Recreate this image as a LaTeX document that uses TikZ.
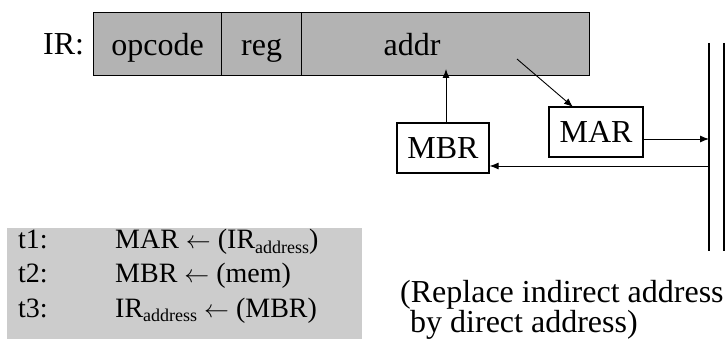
\documentclass[tikz,border=0pt]{standalone}
\usepackage{fontspec}
\setmainfont{Liberation Serif}
\usetikzlibrary{arrows.meta}
\definecolor{irgray}{HTML}{B3B3B3}
\definecolor{tgray}{HTML}{CCCCCC}
\newcommand{\larr}{\ensuremath{\leftarrow}}
\newcommand{\addrsub}{\raisebox{-5pt}{\fontsize{18}{18}\selectfont address}}
\begin{document}
\begin{tikzpicture}[x=1pt,y=-1pt,
  every node/.style={font=\fontsize{32}{32}\selectfont},
  field/.style={draw, line width=1.2pt, fill=irgray, minimum height=63pt,
    inner sep=0pt, text height=22pt, text depth=0pt, anchor=north west},
  regbox/.style={draw, line width=1.2pt, fill=white, inner sep=0pt,
    minimum height=50pt, text height=22pt, text depth=0pt},
  txt/.style={anchor=base west, inner sep=0pt},
  optxt/.style={anchor=base west, inner sep=0pt, font=\fontsize{28}{28}\selectfont},
  arr/.style={-{Latex[length=9pt,width=7pt]}, line width=0.9pt},
  busline/.style={line width=1.2pt}
]
\useasboundingbox (0,0) rectangle (726,339);

% instruction register and its fields
\node[txt] (irlabel) at (43,55) {IR:};
\node[field, minimum width=128pt] (opcode) at (93,12) {opcode};
\node[field, minimum width=80pt] (reg) at (221,12) {reg};
\node[field, minimum width=288pt] (addr) at (301,12)
  {\makebox[288pt][l]{\hspace{82pt}addr}};

% address and buffer registers
\node[regbox, minimum width=94pt] (mar) at (596,132) {MAR};
\node[regbox, minimum width=92pt] (mbr) at (443,148) {MBR};

% system bus
\coordinate (bus1top) at (709,43);
\coordinate (bus1bot) at (709,251);
\coordinate (bus2top) at (724,43);
\coordinate (bus2bot) at (724,251);
\draw[busline] (bus1top) -- (bus1bot);
\draw[busline] (bus2top) -- (bus2bot);

% data paths
\coordinate (addrIn) at (446,69);
\coordinate (addrOut) at (517,59);
\coordinate (marIn) at (573,107);
\coordinate (busIn) at (709,139);
\coordinate (busOut) at (709,166);
\draw[arr] (mbr.north -| addrIn) -- (addrIn);
\draw[arr] (addrOut) -- (marIn);
\draw[arr] (mar.east |- busIn) -- (busIn);
\draw[arr] (busOut) -- (mbr.east |- busOut);

% micro-operations
\node[fill=tgray, inner sep=0pt, minimum width=355pt, minimum height=111pt,
  anchor=north west] (ops) at (7,228) {};
\node[optxt] (t1) at (18,249) {t1:};
\node[optxt] (t2) at (18,283) {t2:};
\node[optxt] (t3) at (18,317) {t3:};
\node[optxt] (op1) at (115,249) {MAR \larr{} (IR\addrsub)};
\node[optxt] (op2) at (115,283) {MBR \larr{} (mem)};
\node[optxt] (op3) at (115,317) {IR\addrsub{} \larr{} (MBR)};

% note
\node[txt] (note1) at (400,302) {(Replace indirect address};
\node[txt] (note2) at (410,332) {by direct address)};
\end{tikzpicture}
\end{document}
